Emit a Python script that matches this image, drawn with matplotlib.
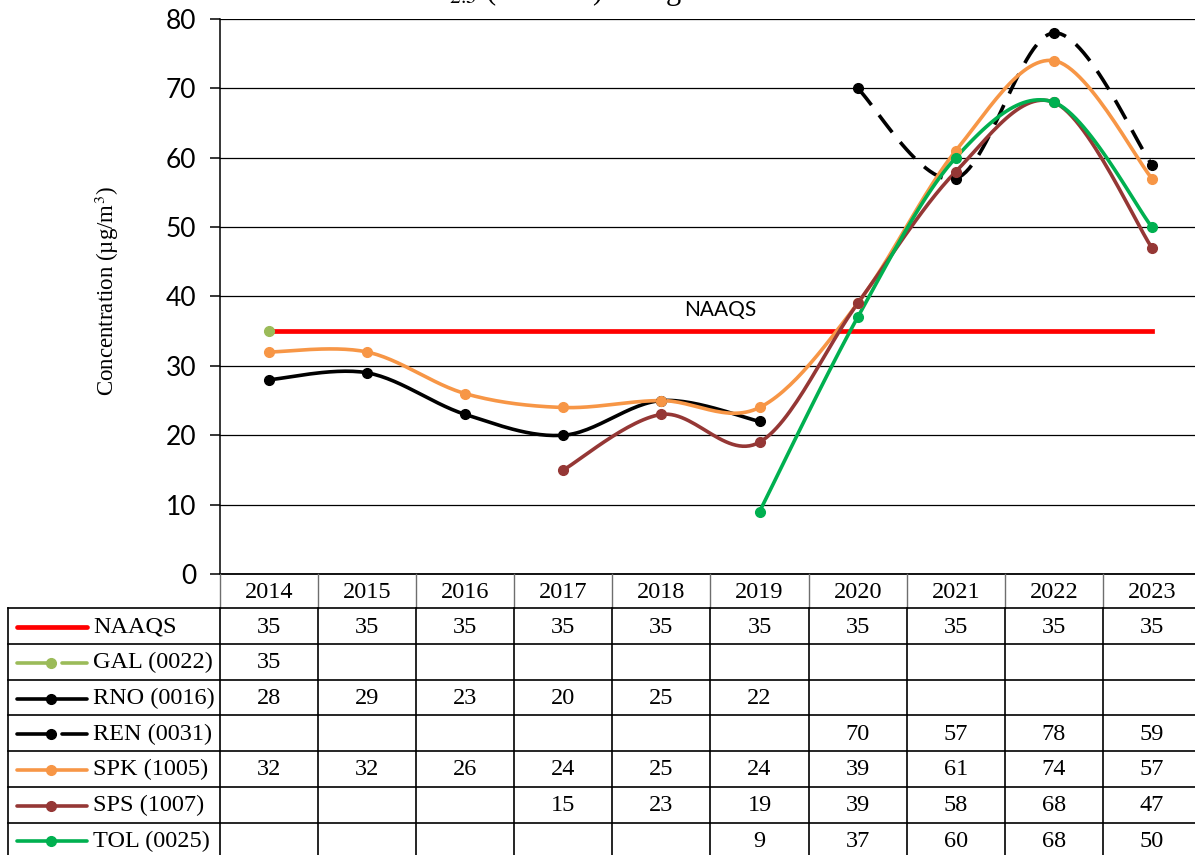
"""PM2.5 24-hour design values with Excel-style data table."""

import numpy as np
import matplotlib.pyplot as plt

years = [2014, 2015, 2016, 2017, 2018, 2019, 2020, 2021, 2022, 2023]
naaqs = [35, 35, 35, 35, 35, 35, 35, 35, 35, 35]
gal = [35, None, None, None, None, None, None, None, None, None]
rno = [28, 29, 23, 20, 25, 22, None, None, None, None]
ren = [None, None, None, None, None, None, 70, 57, 78, 59]
spk = [32, 32, 26, 24, 25, 24, 39, 61, 74, 57]
sps = [None, None, None, 15, 23, 19, 39, 58, 68, 47]
tol = [None, None, None, None, None, 9, 37, 60, 68, 50]

names = ["NAAQS", "GAL (0022)", "RNO (0016)", "REN (0031)",
         "SPK (1005)", "SPS (1007)", "TOL (0025)"]
series = [naaqs, gal, rno, ren, spk, sps, tol]
colors = ["#FF0000", "#9BBB59", "#000000", "#000000",
          "#F79646", "#953735", "#00B050"]
dashed = [False, True, False, True, False, False, False]

SERIF = "Liberation Serif"
SANS = "Lato"
plt.rcParams["mathtext.fontset"] = "stix"

W, H = 1195, 855
fig = plt.figure(figsize=(W / 100, H / 100), dpi=100)

# plot area in pixels
x0, cw = 220, 98.1
ytop, ybot = 19, 574
ax = fig.add_axes([x0 / W, (H - ybot) / H, cw * 10 / W, (ybot - ytop) / H])


def smooth(xs, ys, n=30):
    """Catmull-Rom style bezier smoothing, like Excel's smoothed lines."""
    p = np.column_stack([xs, ys]).astype(float)
    if len(p) < 2:
        return p[:, 0], p[:, 1]
    out = []
    for i in range(len(p) - 1):
        a = p[i - 1] if i > 0 else p[i]
        b, c = p[i], p[i + 1]
        d = p[i + 2] if i + 2 < len(p) else p[i + 1]
        c1 = b + (c - a) / 6
        c2 = c - (d - b) / 6
        t = np.linspace(0, 1, n)[:, None]
        seg = ((1 - t) ** 3) * b + 3 * ((1 - t) ** 2) * t * c1 \
            + 3 * (1 - t) * t ** 2 * c2 + t ** 3 * c
        out.append(seg if i == 0 else seg[1:])
    out = np.vstack(out)
    return out[:, 0], out[:, 1]


for name, vals, col, dsh in zip(names, series, colors, dashed):
    idx = [i for i, v in enumerate(vals) if v is not None]
    xs = np.array(idx)
    ys = np.array([vals[i] for i in idx])
    if name == "NAAQS":
        ax.plot(xs, ys, color=col, lw=3.4, zorder=3)
        continue
    sx, sy = smooth(xs, ys)
    ln, = ax.plot(sx, sy, color=col, lw=2.6, zorder=4)
    if dsh:
        ln.set_dashes((6, 3.5))
    ax.plot(xs, ys, "o", color=col, ms=7, zorder=5)

ax.text(4.6, 38, "NAAQS", fontsize=15, family=SANS, ha="center", va="center")

ax.set_xlim(-0.5, 9.5)
ax.set_ylim(0, 80)
ax.set_yticks(range(0, 81, 10))
ax.set_xticks([])
ax.yaxis.grid(True, color="black", lw=0.9)
ax.set_axisbelow(True)
for s in ["top", "right"]:
    ax.spines[s].set_visible(False)
ax.spines["left"].set_linewidth(1.1)
ax.spines["bottom"].set_linewidth(1.3)
ax.tick_params(axis="y", length=7, width=1.1, pad=10, labelsize=19)
for lab in ax.get_yticklabels():
    lab.set_family(SANS)
ax.set_ylabel("Concentration (µg/m$^3$)", family=SERIF, fontsize=16.5)
ax.yaxis.set_label_coords(-99 / 981, 0.51)

# title, mostly clipped by the top edge of the figure
fig.text(405 / W, 1 + 1 / H, "PM$_{2.5}$ (24-hour) Design Values",
         family=SERIF, fontsize=22, ha="left", va="baseline")

# data table under the plot, drawn in pixel coordinates
tab = fig.add_axes([0, 0, 1, 1])
tab.set_xlim(0, W)
tab.set_ylim(H, 0)
tab.axis("off")

rh = 35.7
row0 = 608.3
left = 8
for k in range(11):
    xk = x0 + cw * k
    tab.plot([xk, xk], [ybot, row0], color="#6e6e6e", lw=1.0)
    tab.plot([xk, xk], [row0, H + 5], color="black", lw=1.2)
tab.plot([left, left], [row0, H + 5], color="black", lw=1.2)
for r in range(len(names)):
    yr = row0 + rh * r
    tab.plot([left, W + 5], [yr, yr], color="black", lw=1.2)

FS = 17.5
for i, yr in enumerate(years):
    tab.text(x0 + cw * (i + 0.5), (ybot + row0) / 2 + 1, str(yr),
             family=SERIF, fontsize=FS, ha="center", va="center")

for r, (name, vals, col, dsh) in enumerate(zip(names, series, colors, dashed)):
    yc = row0 + rh * (r + 0.5) + 1
    if name == "NAAQS":
        tab.plot([17, 87], [yc, yc], color=col, lw=3.4, solid_capstyle="round")
    elif dsh:
        tab.plot([17, 54], [yc, yc], color=col, lw=2.6, solid_capstyle="round")
        tab.plot([62, 87], [yc, yc], color=col, lw=2.6, solid_capstyle="round")
        tab.plot([51], [yc], "o", color=col, ms=7)
    else:
        tab.plot([17, 87], [yc, yc], color=col, lw=2.6, solid_capstyle="round")
        tab.plot([51], [yc], "o", color=col, ms=7)
    tab.text(93, yc, name, family=SERIF, fontsize=FS, ha="left", va="center")
    for i, v in enumerate(vals):
        if v is not None:
            tab.text(x0 + cw * (i + 0.5), yc, str(v), family=SERIF,
                     fontsize=FS, ha="center", va="center")

fig.savefig("out.png", dpi=100)
